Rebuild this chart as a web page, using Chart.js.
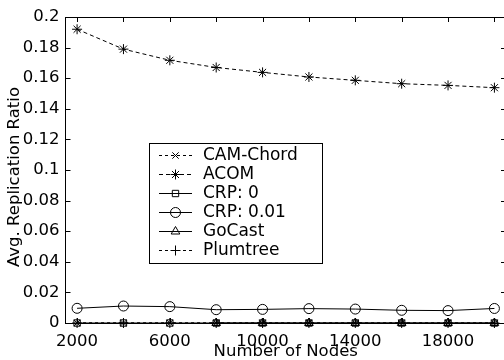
<!DOCTYPE html>
<html>
<head>
<meta charset="utf-8">
<script src="https://cdn.jsdelivr.net/npm/chart.js@4.4.1/dist/chart.umd.min.js"></script>
<style>
  html, body { margin: 0; padding: 0; background: #fff; overflow: hidden; }
  #wrap { width: 504px; height: 360px; overflow: hidden; }
  canvas { display: block; }
</style>
</head>
<body>
<div id="wrap"><canvas id="chart" width="512" height="360"></canvas></div>
<script>
// number of nodes on the x axis
const nodes = [2000, 4000, 6000, 8000, 10000, 12000, 14000, 16000, 18000, 20000];

// avg. replication ratio per scheme
const camChord = [0, 0, 0, 0, 0, 0, 0, 0, 0, 0];
const acom = [0.192, 0.179, 0.1717, 0.167, 0.1638, 0.1608, 0.1586, 0.1564, 0.1553, 0.1538];
const crp0 = [0, 0, 0, 0, 0, 0, 0, 0, 0, 0];
const crp001 = [0.0096, 0.0111, 0.0107, 0.0087, 0.0089, 0.0094, 0.0091, 0.0083, 0.0081, 0.0095];
const goCast = [null, null, null, 0, 0, 0, 0, 0, 0, 0];
const plumtree = [0, 0, 0, 0, 0, 0, 0, 0, 0, 0];

// ticks
const xTicks = [2000, 4000, 6000, 8000, 10000, 12000, 14000, 16000, 18000, 20000];
const xTickLabels = ['2000', '', '6000', '', '10000', '', '14000', '', '18000', ''];
const yTicks = [0, 0.02, 0.04, 0.06, 0.08, 0.1, 0.12, 0.14, 0.16, 0.18, 0.2];
const yTickLabels = ['0', '0.02', '0.04', '0.06', '0.08', '0.1', '0.12', '0.14', '0.16', '0.18', '0.2'];

const FONT = 'DejaVu Sans';

function pts(arr) {
    return nodes.map((n, i) => ({x: n, y: arr[i]}));
}

function series(label, arr, style, radius, dash) {
    return {
        label: label,
        data: pts(arr),
        borderColor: '#000',
        borderWidth: 1,
        borderDash: dash,
        pointStyle: style,
        pointRadius: radius,
        pointBorderColor: '#000',
        pointBackgroundColor: 'rgba(0,0,0,0)',
        pointBorderWidth: 1,
        pointHoverRadius: radius,
        fill: false,
        tension: 0,
        spanGaps: false,
        clip: false
    };
}

const frame = {
    id: 'frame',
    beforeDatasetsDraw(chart) {
        const {ctx, chartArea: a, scales: {x, y}} = chart;
        const len = 5;
        ctx.save();
        ctx.strokeStyle = '#000';
        ctx.lineWidth = 1;
        ctx.beginPath();
        // top and right edges of the box
        ctx.moveTo(a.left, Math.round(a.top) + 0.5);
        ctx.lineTo(a.right, Math.round(a.top) + 0.5);
        ctx.moveTo(Math.round(a.right) - 0.5, a.top);
        ctx.lineTo(Math.round(a.right) - 0.5, a.bottom);
        // inward tick marks
        xTicks.forEach(v => {
            const px = Math.round(x.getPixelForValue(v)) + 0.5;
            ctx.moveTo(px, a.top);
            ctx.lineTo(px, a.top + len);
            ctx.moveTo(px, a.bottom);
            ctx.lineTo(px, a.bottom - len);
        });
        yTicks.forEach(v => {
            const py = Math.round(y.getPixelForValue(v)) + 0.5;
            ctx.moveTo(a.left, py);
            ctx.lineTo(a.left + len, py);
            ctx.moveTo(a.right, py);
            ctx.lineTo(a.right - len, py);
        });
        ctx.stroke();

        // y axis title, drawn by hand so it can sit over the tick labels
        ctx.fillStyle = '#000';
        ctx.font = '16.5px "' + FONT + '"';
        ctx.textAlign = 'center';
        ctx.textBaseline = 'middle';
        ctx.translate(15, 177);
        ctx.rotate(-Math.PI / 2);
        ctx.fillText('Avg. Replication Ratio', 0, 0);
        ctx.restore();
    },
    afterDraw(chart) {
        const ctx = chart.ctx;
        const box = {left: 149, top: 143, right: 322, bottom: 263};
        ctx.save();
        ctx.fillStyle = '#fff';
        ctx.fillRect(box.left, box.top, box.right - box.left, box.bottom - box.top);
        ctx.strokeStyle = '#000';
        ctx.lineWidth = 1;
        ctx.strokeRect(box.left + 0.5, box.top + 0.5, box.right - box.left, box.bottom - box.top);

        ctx.font = '17px "' + FONT + '"';
        ctx.textAlign = 'left';
        ctx.textBaseline = 'middle';
        chart.data.datasets.forEach((ds, i) => {
            const cy = Math.round(155 + i * 19) + 0.5;
            ctx.strokeStyle = '#000';
            ctx.lineWidth = 1;
            ctx.setLineDash(ds.borderDash || []);
            ctx.beginPath();
            ctx.moveTo(159, cy);
            ctx.lineTo(192, cy);
            ctx.stroke();
            ctx.setLineDash([]);
            ctx.fillStyle = 'rgba(0,0,0,0)';
            Chart.helpers.drawPoint(ctx, {
                pointStyle: ds.pointStyle,
                rotation: 0,
                radius: ds.pointRadius,
                borderWidth: 1
            }, 175.5, cy);
            ctx.fillStyle = '#000';
            ctx.fillText(ds.label, 203, cy + 0.5);
        });
        ctx.restore();
    }
};

new Chart(document.getElementById('chart').getContext('2d'), {
    type: 'line',
    data: {
        datasets: [
            series('CAM-Chord', camChord, 'crossRot', 4.5, [3, 3]),
            series('ACOM', acom, 'star', 5, [4, 3]),
            series('CRP: 0', crp0, 'rect', 4.5, []),
            series('CRP: 0.01', crp001, 'circle', 5, []),
            series('GoCast', goCast, 'triangle', 5, []),
            series('Plumtree', plumtree, 'cross', 5, [3, 3])
        ]
    },
    options: {
        responsive: false,
        animation: false,
        devicePixelRatio: 1,
        layout: {
            padding: {top: 17, right: 5.4, left: 0, bottom: 0}
        },
        scales: {
            x: {
                type: 'linear',
                min: 1500,
                max: 20500,
                afterBuildTicks: s => { s.ticks = xTicks.map(v => ({value: v})); },
                afterFit: s => { s.height = 37; },
                ticks: {
                    autoSkip: false,
                    maxRotation: 0,
                    padding: 9,
                    color: '#000',
                    font: {family: FONT, size: 16.5},
                    callback: (v, i) => xTickLabels[i]
                },
                grid: {display: false, drawTicks: false},
                border: {display: true, color: '#000', width: 1},
                title: {
                    display: true,
                    text: 'Number of Nodes',
                    color: '#000',
                    font: {family: FONT, size: 16.5, lineHeight: 1},
                    padding: {top: 0, bottom: 0}
                }
            },
            y: {
                type: 'linear',
                min: 0,
                max: 0.2,
                afterBuildTicks: s => { s.ticks = yTicks.map(v => ({value: v})); },
                afterFit: s => { s.width = 65.5; },
                ticks: {
                    padding: 6,
                    color: '#000',
                    font: {family: FONT, size: 16.5},
                    callback: (v, i) => yTickLabels[i]
                },
                grid: {display: false, drawTicks: false},
                border: {display: true, color: '#000', width: 1}
            }
        },
        plugins: {
            legend: {display: false},
            tooltip: {enabled: false}
        }
    },
    plugins: [frame]
});
</script>
</body>
</html>
